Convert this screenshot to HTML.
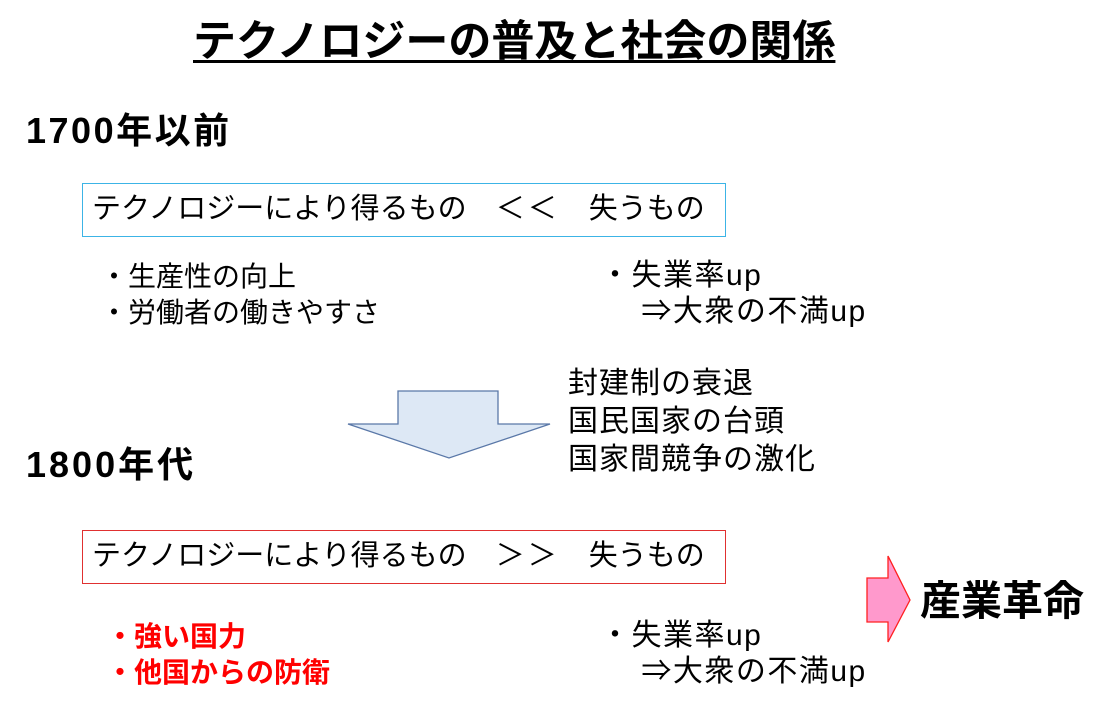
<!DOCTYPE html>
<html><head><meta charset="utf-8"><style>
body{margin:0;width:1117px;height:707px;background:#fff;position:relative;overflow:hidden;font-family:"Liberation Sans","Noto Sans CJK JP",sans-serif;color:#000}
.a{position:absolute;white-space:nowrap;line-height:1}
.b{font-weight:bold}
.box{position:absolute;box-sizing:border-box}
</style></head><body>
<div class="a b" style="left:193px;top:21px;font-size:43px;text-decoration:underline;text-decoration-thickness:3px;text-underline-offset:4px">テクノロジーの普及と社会の関係</div>
<div class="a b" style="left:26px;top:113px;font-size:36px;letter-spacing:2.5px">1700年以前</div>
<div class="box" style="left:82px;top:183px;width:644px;height:54px;border:1px solid #3cb4e6"></div>
<div class="a" style="left:92px;top:195px;font-size:29px">テクノロジーにより得るもの　<span style="letter-spacing:3px">＜＜</span>　失うもの</div>
<div class="a" style="left:100px;top:259px;font-size:28px;line-height:36px">・生産性の向上<br>・労働者の働きやすさ</div>
<div class="a" style="left:600px;top:258px;font-size:30px;line-height:36px;letter-spacing:1.5px">・失業率up<br>　 ⇒大衆の不満up</div>
<svg class="a" style="left:0;top:0" width="1117" height="707">
<polygon points="398,391 498,391 498,424 550,424 449,458 348,424 398,424" fill="#dde8f5" stroke="#5a78a8" stroke-width="1.3"/>
<polygon points="867,578 888,578 888,556 910,600 888,642 888,622 867,622" fill="#ff99cc" stroke="#ff2020" stroke-width="1.3"/>
</svg>
<div class="a" style="left:568px;top:365px;font-size:30px;line-height:38px;letter-spacing:1px">封建制の衰退<br>国民国家の台頭<br>国家間競争の激化</div>
<div class="a b" style="left:26px;top:447px;font-size:36px;letter-spacing:3px">1800年代</div>
<div class="box" style="left:82px;top:530px;width:644px;height:54px;border:1px solid #e03030"></div>
<div class="a" style="left:92px;top:542px;font-size:29px">テクノロジーにより得るもの　<span style="letter-spacing:3px">＞＞</span>　失うもの</div>
<div class="a b" style="left:106px;top:619px;font-size:28px;line-height:36px;color:#ff0000">・強い国力<br>・他国からの防衛</div>
<div class="a" style="left:600px;top:618px;font-size:30px;line-height:36px;letter-spacing:1.5px">・失業率up<br>　 ⇒大衆の不満up</div>
<div class="a b" style="left:920px;top:581px;font-size:41px">産業革命</div>
</body></html>
